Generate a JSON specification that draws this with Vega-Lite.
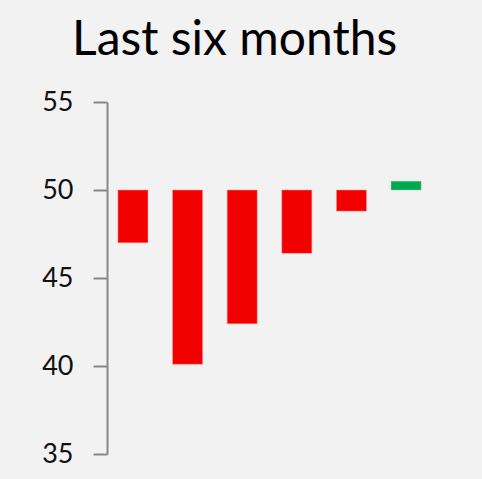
{
  "$schema": "https://vega.github.io/schema/vega-lite/v6.json",
  "autosize": {"type": "none"},
  "width": 325,
  "height": 352,
  "padding": {"left": 107, "top": 102, "right": 50, "bottom": 25},
  "background": "#f2f2f2",
  "title": {
    "text": "Last six months",
    "anchor": "start",
    "frame": "group",
    "dx": -35,
    "offset": 23,
    "font": "Lato",
    "fontSize": 48,
    "fontWeight": "normal",
    "color": "#000000"
  },
  "config": {"view": {"stroke": null}},
  "data": {
    "values": [
      {"month": "M1", "value": 47.0, "dir": "down"},
      {"month": "M2", "value": 40.1, "dir": "down"},
      {"month": "M3", "value": 42.4, "dir": "down"},
      {"month": "M4", "value": 46.4, "dir": "down"},
      {"month": "M5", "value": 48.8, "dir": "down"},
      {"month": "M6", "value": 50.5, "dir": "up"}
    ]
  },
  "mark": {"type": "bar", "strokeWidth": 1, "strokeOpacity": 0.5},
  "encoding": {
    "x": {
      "field": "month",
      "type": "nominal",
      "sort": null,
      "axis": null,
      "scale": {"paddingInner": 0.45, "paddingOuter": 0.2}
    },
    "y": {
      "field": "value",
      "type": "quantitative",
      "scale": {"domain": [35, 55], "nice": false, "zero": false},
      "axis": {
        "title": null,
        "values": [35, 40, 45, 50, 55],
        "grid": false,
        "domainColor": "#888888",
        "domainWidth": 2,
        "tickColor": "#888888",
        "tickWidth": 2,
        "tickSize": 14,
        "labelPadding": 20,
        "labelFont": "Lato",
        "labelFontSize": 27,
        "labelColor": "#111111"
      }
    },
    "y2": {"datum": 50},
    "color": {
      "field": "dir",
      "type": "nominal",
      "scale": {"domain": ["down", "up"], "range": ["#f20000", "#00a650"]},
      "legend": null
    },
    "stroke": {
      "field": "dir",
      "type": "nominal",
      "scale": {"domain": ["down", "up"], "range": ["#ff9a9a", "#7fd6a8"]},
      "legend": null
    }
  }
}
